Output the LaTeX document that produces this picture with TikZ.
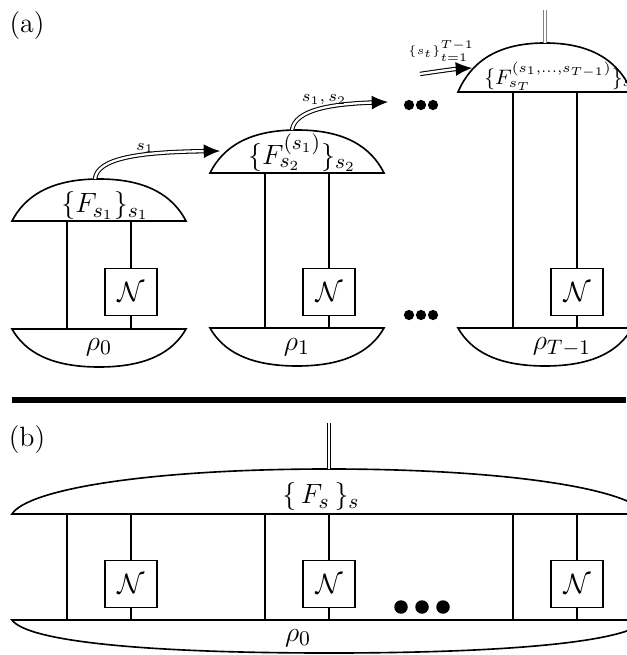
\documentclass[tikz,border=0pt]{standalone}
\usetikzlibrary{arrows.meta}
\begin{document}
\begin{tikzpicture}[x=0.43pt,y=-0.43pt,
  wire/.style={line width=0.7pt},
  chanbox/.style={draw,line width=0.7pt,fill=white,minimum width=22.4pt,minimum height=20.2pt,inner sep=0pt,font=\fontsize{13}{15}\selectfont},
  cwire/.style={double,double distance=1pt,line width=0.45pt},
  carrow/.style={cwire,-{Latex[length=7pt,width=6pt]}},
  lab/.style={inner sep=0pt},
  biglab/.style={inner sep=0pt,font=\fontsize{13}{15}\selectfont},
  bigdot/.style={circle,fill=black,inner sep=0pt,minimum size=4.4pt},
  hugedot/.style={circle,fill=black,inner sep=0pt,minimum size=5.8pt},
]
\useasboundingbox (0,0) rectangle (626,655);

% ---------- panel (a) ----------
\node[lab,font=\large] (la) at (27,26) {(a)};

% measurement domes
\draw[wire] (12,221) .. controls (25,196) and (51,179) .. (99,179) .. controls (147,179) and (173,196) .. (186,221) -- cycle;
\draw[wire] (210,173) .. controls (223,147) and (249,130) .. (297,130) .. controls (345,130) and (371,147) .. (384,173) -- cycle;
\draw[wire] (458,92) .. controls (471,62) and (497,43) .. (545,43) .. controls (593,43) and (619,62) .. (632,92) -- cycle;

% states
\draw[wire] (12,329) .. controls (25,352) and (51,367) .. (99,367) .. controls (147,367) and (173,352) .. (186,329) -- cycle;
\draw[wire] (210,328) .. controls (223,351) and (249,366) .. (297,366) .. controls (345,366) and (371,351) .. (384,328) -- cycle;
\draw[wire] (458,328) .. controls (471,351) and (497,366) .. (545,366) .. controls (593,366) and (619,351) .. (632,328) -- cycle;

\node[biglab] (m1) at (105,206) {$\{F_{s_1}\}_{s_1}$};
\node[biglab] (m2) at (302,153) {$\{F_{s_2}^{(s_1)}\}_{s_2}$};
\node[lab,anchor=west,font=\small] (m3) at (484,76) {$\{F_{s_T}^{(s_1,\dots,s_{T-1})}\}_{s_T}$};

\node[biglab] (r0) at (99,347) {$\rho_0$};
\node[biglab] (r1) at (297,347) {$\rho_1$};
\node[biglab] (r2) at (562,347) {$\rho_{T-1}$};

% wires and channels
\coordinate (a1l) at (67,221);  \coordinate (b1l) at (67,329);
\coordinate (a1r) at (131,221); \coordinate (b1r) at (131,329);
\coordinate (a2l) at (265,173); \coordinate (b2l) at (265,328);
\coordinate (a2r) at (329,173); \coordinate (b2r) at (329,328);
\coordinate (a3l) at (513,92);  \coordinate (b3l) at (513,328);
\coordinate (a3r) at (577,92);  \coordinate (b3r) at (577,328);
\node[chanbox] (n1) at (131,292) {$\mathcal{N}$};
\node[chanbox] (n2) at (329,292) {$\mathcal{N}$};
\node[chanbox] (n3) at (577,292) {$\mathcal{N}$};
\draw[wire] (a1l) -- (b1l);
\draw[wire] (a2l) -- (b2l);
\draw[wire] (a3l) -- (b3l);
\draw[wire] (a1r) -- (n1) -- (b1r);
\draw[wire] (a2r) -- (n2) -- (b2r);
\draw[wire] (a3r) -- (n3) -- (b3r);

% classical arrows
\coordinate (s1) at (95,179);  \coordinate (e1) at (220,151);
\coordinate (s2) at (292,130); \coordinate (e2) at (388,102);
\coordinate (s3) at (420,74);  \coordinate (e3) at (472,68);
\draw[carrow] (s1) .. controls (97,158) and (140,152) .. (e1);
\draw[carrow] (s2) .. controls (295,110) and (330,104) .. (e2);
\draw[carrow] (s3) .. controls (440,71) and (455,69) .. (e3);
\node[lab,font=\scriptsize] (l1) at (145,148) {$s_1$};
\node[lab,font=\scriptsize] (l2) at (324,100) {$s_1,s_2$};
\node[lab,font=\tiny] (l3) at (441,51) {$\{s_t\}_{t=1}^{T-1}$};

% output
\coordinate (o3) at (545,10);  \coordinate (t3) at (545,43);
\draw[double,double distance=0.5pt,line width=0.45pt,draw=gray] (o3) -- (t3);

% dots
\node[bigdot] (d1) at (409,105) {};
\node[bigdot] (d2) at (421,105) {};
\node[bigdot] (d3) at (433,105) {};
\node[bigdot] (d4) at (409,315) {};
\node[bigdot] (d5) at (421,315) {};
\node[bigdot] (d6) at (433,315) {};

% separator
\coordinate (sepl) at (12,400); \coordinate (sepr) at (626,400);
\draw[line width=2.2pt] (sepl) -- (sepr);

% ---------- panel (b) ----------
\node[lab,font=\large] (lb) at (27,440) {(b)};
\draw[wire] (12,514) .. controls (28,489) and (150,469) .. (329,469) .. controls (508,469) and (630,489) .. (646,514) -- cycle;
\draw[wire] (12,620) .. controls (28,642) and (150,653) .. (329,653) .. controls (508,653) and (630,642) .. (646,620) -- cycle;
\node[biglab] (mb) at (321,497) {$\{\,F_s\,\}_s$};
\node[biglab] (rb) at (298,638) {$\rho_0$};
\coordinate (ob) at (329,423); \coordinate (tb) at (329,469);
\draw[cwire,double distance=1pt] (ob) -- (tb);

\coordinate (p1l) at (67,514);  \coordinate (q1l) at (67,620);
\coordinate (p1r) at (131,514); \coordinate (q1r) at (131,620);
\coordinate (p2l) at (265,514); \coordinate (q2l) at (265,620);
\coordinate (p2r) at (329,514); \coordinate (q2r) at (329,620);
\coordinate (p3l) at (513,514); \coordinate (q3l) at (513,620);
\coordinate (p3r) at (577,514); \coordinate (q3r) at (577,620);
\node[chanbox] (nb1) at (131,584) {$\mathcal{N}$};
\node[chanbox] (nb2) at (329,584) {$\mathcal{N}$};
\node[chanbox] (nb3) at (577,584) {$\mathcal{N}$};
\draw[wire] (p1l) -- (q1l);
\draw[wire] (p2l) -- (q2l);
\draw[wire] (p3l) -- (q3l);
\draw[wire] (p1r) -- (nb1) -- (q1r);
\draw[wire] (p2r) -- (nb2) -- (q2r);
\draw[wire] (p3r) -- (nb3) -- (q3r);

\node[hugedot] (db1) at (401,607) {};
\node[hugedot] (db2) at (422,607) {};
\node[hugedot] (db3) at (443,607) {};
\end{tikzpicture}
\end{document}
